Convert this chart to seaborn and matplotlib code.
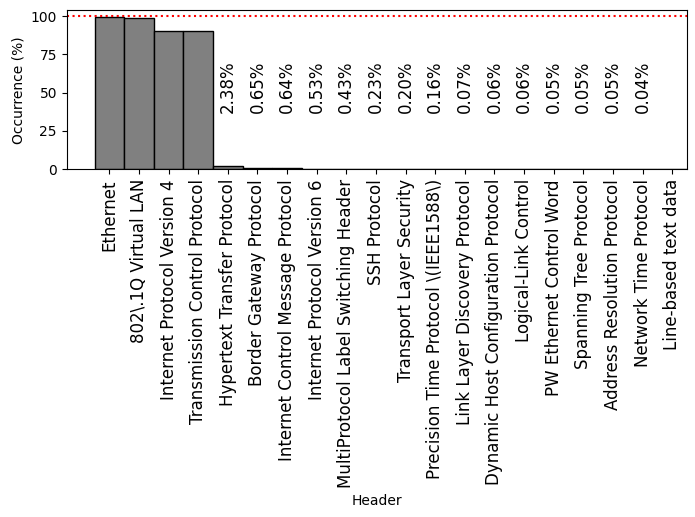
import matplotlib
matplotlib.use("Agg")
import matplotlib.pyplot as plt
import seaborn as sns
import pandas as pd

headers = [
    "Ethernet", "802\\.1Q Virtual LAN", "Internet Protocol Version 4",
    "Transmission Control Protocol", "Hypertext Transfer Protocol",
    "Border Gateway Protocol", "Internet Control Message Protocol",
    "Internet Protocol Version 6", "MultiProtocol Label Switching Header",
    "SSH Protocol", "Transport Layer Security",
    "Precision Time Protocol \\(IEEE1588\\)", "Link Layer Discovery Protocol",
    "Dynamic Host Configuration Protocol", "Logical-Link Control",
    "PW Ethernet Control Word", "Spanning Tree Protocol",
    "Address Resolution Protocol", "Network Time Protocol", "Line-based text data",
]
occurrence = [99.5, 98.8, 90.3, 90.2, 2.38, 0.65, 0.64, 0.53, 0.43, 0.23,
              0.20, 0.16, 0.07, 0.06, 0.06, 0.05, 0.05, 0.05, 0.04, 0.0]
label_texts = ["", "", "", "", "2.38%", "0.65%", "0.64%", "0.53%", "0.43%", "0.23%",
               "0.20%", "0.16%", "0.07%", "0.06%", "0.06%", "0.05%", "0.05%",
               "0.05%", "0.04%", ""]

df = pd.DataFrame({"Header": headers, "Occurrence (%)": occurrence})

fig, ax = plt.subplots(figsize=(6.95, 5.17), dpi=100)
sns.barplot(data=df, x="Header", y="Occurrence (%)", color="gray",
            saturation=1, width=1, edgecolor="black", linewidth=1, ax=ax)
for p in ax.patches:
    p.set_facecolor("gray")
ax.axhline(100, color="red", linestyle=":", linewidth=1.5)
for i, t in enumerate(label_texts):
    if t:
        ax.text(i, 37, t, rotation=90, ha="center", va="bottom", fontsize=12)
ax.set_xlim(-1.44, 19.49)
ax.set_ylim(0, 103.7)
ax.set_yticks([0, 25, 50, 75, 100])
ax.tick_params(axis="x", labelsize=12, labelrotation=90)
fig.subplots_adjust(left=0.096, right=0.988, top=0.980, bottom=0.6725)
fig.savefig("out.png", dpi=100)
